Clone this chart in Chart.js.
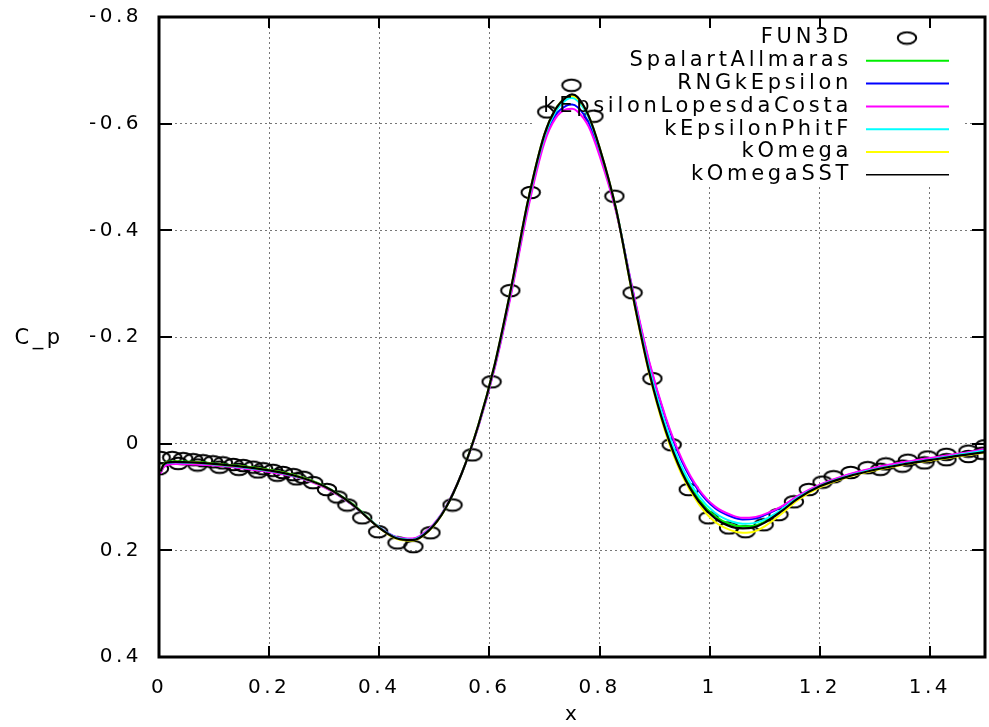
<!DOCTYPE html>
<html>
<head>
<meta charset="utf-8">
<title>C_p distribution</title>
<script src="https://cdn.jsdelivr.net/npm/chart.js@4.4.0/dist/chart.umd.min.js"></script>
<style>
  html, body { margin: 0; padding: 0; background: #fff; }
  #wrap { width: 989px; height: 727px; }
</style>
</head>
<body>
<div id="wrap"><canvas id="cpChart"></canvas></div>
<script>
// Axis ticks
const xTicks = [0, 0.2, 0.4, 0.6, 0.8, 1.0, 1.2, 1.4];
const yTicks = [-0.8, -0.6, -0.4, -0.2, 0, 0.2, 0.4];

// FUN3D reference points (circles)
const fun3dX = [0, 0.003, 0.024, 0.044, 0.062, 0.08, 0.098, 0.116, 0.135, 0.153, 0.171, 0.189, 0.207, 0.225, 0.244,
    0.262, 0.28, 0.305, 0.324, 0.342, 0.369, 0.398, 0.433, 0.462, 0.493, 0.533, 0.569, 0.604, 0.638, 0.675, 0.705,
    0.749, 0.789, 0.827, 0.86, 0.896, 0.931, 0.962, 0.998, 1.035, 1.065, 1.098, 1.125, 1.153, 1.18, 1.205, 1.225,
    1.256, 1.287, 1.32, 1.36, 1.396, 1.43, 1.47, 1.5,
    0.035, 0.07, 0.11, 0.145, 0.18, 0.215, 0.25, 1.31, 1.35, 1.39, 1.43, 1.47, 1.495];
const fun3dY = [0.047, 0.026, 0.026, 0.028, 0.030, 0.032, 0.034, 0.036, 0.039, 0.041, 0.044, 0.047, 0.050, 0.054, 0.058,
    0.063, 0.073, 0.086, 0.100, 0.115, 0.139, 0.165, 0.186, 0.193, 0.167, 0.115, 0.021, -0.116, -0.287, -0.471, -0.622,
    -0.672, -0.614, -0.464, -0.283, -0.122, 0.002, 0.086, 0.139, 0.158, 0.165, 0.152, 0.133, 0.109, 0.086, 0.072, 0.062,
    0.054, 0.045, 0.038, 0.031, 0.025, 0.020, 0.014, 0.004,
    0.037, 0.040, 0.044, 0.048, 0.053, 0.059, 0.066, 0.048, 0.042, 0.036, 0.030, 0.024, 0.018];

// Turbulence model curves, all on the same x stations
const xModel = [0.003, 0.008, 0.015, 0.03, 0.06, 0.1, 0.15, 0.2, 0.25, 0.3, 0.35, 0.4, 0.43, 0.46, 0.49, 0.52, 0.55,
    0.58, 0.61, 0.64, 0.67, 0.70, 0.72, 0.74, 0.75, 0.76, 0.78, 0.80, 0.83, 0.86, 0.89, 0.92, 0.95, 0.98, 1.01, 1.04,
    1.06, 1.08, 1.10, 1.13, 1.16, 1.2, 1.25, 1.3, 1.35, 1.4, 1.45, 1.5];
const spalartAllmaras = [0.051, 0.039, 0.034, 0.033, 0.034, 0.037, 0.042, 0.049, 0.060, 0.079, 0.112, 0.157, 0.177,
    0.181, 0.163, 0.122, 0.055, -0.035, -0.150, -0.295, -0.455, -0.580, -0.627, -0.650, -0.652, -0.647, -0.615, -0.555,
    -0.440, -0.280, -0.137, -0.028, 0.052, 0.104, 0.136, 0.152, 0.155, 0.154, 0.146, 0.126, 0.102, 0.079, 0.061, 0.048,
    0.038, 0.030, 0.022, 0.015];
const rngKEpsilon = [0.055, 0.044, 0.039, 0.037, 0.038, 0.040, 0.045, 0.052, 0.062, 0.081, 0.114, 0.157, 0.175, 0.179,
    0.161, 0.121, 0.055, -0.033, -0.145, -0.287, -0.445, -0.570, -0.616, -0.634, -0.636, -0.631, -0.602, -0.545, -0.437,
    -0.288, -0.152, -0.047, 0.034, 0.088, 0.121, 0.137, 0.142, 0.141, 0.134, 0.119, 0.099, 0.078, 0.059, 0.046, 0.036,
    0.028, 0.020, 0.011];
const kEpsilonLopesdaCosta = [0.056, 0.045, 0.040, 0.038, 0.039, 0.041, 0.046, 0.053, 0.063, 0.082, 0.114, 0.157,
    0.175, 0.178, 0.160, 0.120, 0.055, -0.032, -0.143, -0.283, -0.440, -0.565, -0.610, -0.627, -0.628, -0.623, -0.595,
    -0.540, -0.435, -0.290, -0.155, -0.050, 0.030, 0.085, 0.118, 0.134, 0.139, 0.138, 0.132, 0.118, 0.098, 0.077, 0.058,
    0.045, 0.035, 0.027, 0.019, 0.010];
const kEpsilonPhitF = [0.052, 0.041, 0.036, 0.035, 0.036, 0.039, 0.044, 0.051, 0.062, 0.080, 0.113, 0.157, 0.176,
    0.180, 0.162, 0.121, 0.055, -0.034, -0.148, -0.292, -0.451, -0.575, -0.622, -0.645, -0.648, -0.643, -0.612, -0.552,
    -0.440, -0.283, -0.142, -0.035, 0.045, 0.098, 0.130, 0.146, 0.150, 0.149, 0.142, 0.124, 0.101, 0.079, 0.061, 0.048,
    0.038, 0.030, 0.021, 0.013];
const kOmega = [0.052, 0.040, 0.035, 0.034, 0.035, 0.038, 0.043, 0.050, 0.061, 0.080, 0.113, 0.158, 0.178, 0.182,
    0.164, 0.122, 0.055, -0.035, -0.150, -0.295, -0.455, -0.580, -0.627, -0.650, -0.652, -0.647, -0.615, -0.555, -0.440,
    -0.278, -0.132, -0.020, 0.060, 0.113, 0.147, 0.163, 0.167, 0.165, 0.155, 0.132, 0.106, 0.082, 0.063, 0.050, 0.040,
    0.032, 0.024, 0.017];
const kOmegaSST = [0.052, 0.040, 0.035, 0.034, 0.035, 0.038, 0.043, 0.050, 0.061, 0.080, 0.113, 0.158, 0.177, 0.181,
    0.163, 0.122, 0.055, -0.035, -0.150, -0.295, -0.455, -0.580, -0.627, -0.650, -0.655, -0.650, -0.615, -0.555, -0.440,
    -0.280, -0.135, -0.025, 0.055, 0.108, 0.140, 0.156, 0.159, 0.157, 0.148, 0.127, 0.103, 0.080, 0.062, 0.049, 0.039,
    0.031, 0.023, 0.016];

const FONT = '"DejaVu Sans", sans-serif';

// Horizontally stretched open circle, like the gnuplot marker
const ring = document.createElement('canvas');
ring.width = 22;
ring.height = 15;
const rctx = ring.getContext('2d');
rctx.lineWidth = 2;
rctx.strokeStyle = '#000';
rctx.beginPath();
rctx.ellipse(11, 7.5, 9.2, 5.8, 0, 0, Math.PI * 2);
rctx.stroke();

function toPoints(xs, ys) {
    return xs.map((x, i) => ({ x, y: ys[i] }));
}

function modelLine(label, ys, color, width, order) {
    return {
        label,
        data: toPoints(xModel, ys),
        showLine: true,
        borderColor: color,
        borderWidth: width,
        pointRadius: 0,
        cubicInterpolationMode: 'monotone',
        order
    };
}

// Legend entries in gnuplot order
const legendItems = [
    { label: 'FUN3D', marker: true },
    { label: 'SpalartAllmaras', color: '#00ee00', width: 2 },
    { label: 'RNGkEpsilon', color: '#0000ff', width: 2 },
    { label: 'kEpsilonLopesdaCosta', color: '#ff00ff', width: 2 },
    { label: 'kEpsilonPhitF', color: '#00ffff', width: 2 },
    { label: 'kOmega', color: '#ffff00', width: 2 },
    { label: 'kOmegaSST', color: '#000000', width: 1.5 }
];

// Frame, mirrored ticks, legend and axis titles
const framePlugin = {
    id: 'frame',
    beforeDraw(chart) {
        chart.ctx.letterSpacing = '3.5px';
    },
    beforeDatasetsDraw(chart) {
        // the key box hides the grid behind it
        const ctx = chart.ctx;
        ctx.save();
        ctx.fillStyle = '#fff';
        ctx.fillRect(534, 27, 428, 157);
        ctx.restore();
    },
    afterDraw(chart) {
        const { ctx, chartArea: a, scales } = chart;
        ctx.save();
        ctx.setLineDash([]);

        // inward tick marks on all four sides
        ctx.strokeStyle = '#000000';
        ctx.lineWidth = 2;
        ctx.beginPath();
        xTicks.forEach(v => {
            const px = Math.round(scales.x.getPixelForValue(v));
            ctx.moveTo(px, a.bottom);
            ctx.lineTo(px, a.bottom - 11);
            ctx.moveTo(px, a.top);
            ctx.lineTo(px, a.top + 11);
        });
        yTicks.forEach(v => {
            const py = Math.round(scales.y.getPixelForValue(v));
            ctx.moveTo(a.left, py);
            ctx.lineTo(a.left + 13, py);
            ctx.moveTo(a.right, py);
            ctx.lineTo(a.right - 13, py);
        });
        ctx.stroke();

        // plot border
        ctx.lineWidth = 3;
        ctx.beginPath();
        ctx.rect(a.left, a.top, a.right - a.left, a.bottom - a.top);
        ctx.stroke();

        // key
        ctx.letterSpacing = '3.7px';
        ctx.font = '21px ' + FONT;
        ctx.fillStyle = '#000';
        ctx.textAlign = 'right';
        ctx.textBaseline = 'middle';
        legendItems.forEach((item, i) => {
            const y = 38 + i * 22.8;
            ctx.fillText(item.label, 852, y);
            if (item.marker) {
                ctx.drawImage(ring, 907 - ring.width / 2, y - ring.height / 2);
            } else {
                ctx.strokeStyle = item.color;
                ctx.lineWidth = item.width;
                ctx.beginPath();
                ctx.moveTo(866, y);
                ctx.lineTo(949, y);
                ctx.stroke();
            }
        });

        // axis titles
        ctx.textAlign = 'center';
        ctx.fillStyle = '#000';
        ctx.letterSpacing = '3.5px';
        ctx.fillText('C_p', 39, 339);
        ctx.letterSpacing = '0px';
        ctx.font = '20px ' + FONT;
        ctx.fillText('x', 571, 715);
        ctx.restore();
    }
};

const ctx = document.getElementById('cpChart').getContext('2d');

new Chart(ctx, {
    type: 'scatter',
    data: {
        datasets: [
            {
                label: 'FUN3D',
                data: toPoints(fun3dX, fun3dY),
                pointStyle: ring,
                borderColor: '#000',
                backgroundColor: 'transparent',
                showLine: false,
                order: 7
            },
            modelLine('SpalartAllmaras', spalartAllmaras, '#00ee00', 2, 6),
            modelLine('RNGkEpsilon', rngKEpsilon, '#0000ff', 2, 5),
            modelLine('kEpsilonLopesdaCosta', kEpsilonLopesdaCosta, '#ff00ff', 2, 4),
            modelLine('kEpsilonPhitF', kEpsilonPhitF, '#00ffff', 2, 3),
            modelLine('kOmega', kOmega, '#ffff00', 2, 2),
            modelLine('kOmegaSST', kOmegaSST, '#000000', 2.2, 1)
        ]
    },
    options: {
        responsive: true,
        maintainAspectRatio: false,
        animation: false,
        events: [],
        layout: { autoPadding: false, padding: { top: 17, right: 4, left: 0, bottom: 0 } },
        plugins: {
            legend: { display: false },
            tooltip: { enabled: false }
        },
        scales: {
            x: {
                type: 'linear',
                min: 0,
                max: 1.5,
                afterBuildTicks: scale => { scale.ticks = xTicks.map(value => ({ value })); },
                afterFit: scale => {
                    scale.height = 70;
                    scale.paddingLeft = 0;
                    scale.paddingRight = 0;
                },
                grid: { color: '#777', lineWidth: 1, drawTicks: false },
                border: { display: true, color: '#000', dash: [2, 3] },
                ticks: {
                    color: '#000',
                    padding: 19,
                    maxRotation: 0,
                    font: { family: FONT, size: 20 },
                    callback: v => String(+v.toFixed(1))
                }
            },
            y: {
                type: 'linear',
                min: -0.8,
                max: 0.4,
                reverse: true,
                afterBuildTicks: scale => { scale.ticks = yTicks.map(value => ({ value })); },
                afterFit: scale => {
                    scale.width = 159;
                    scale.paddingTop = 0;
                    scale.paddingBottom = 0;
                },
                grid: { color: '#777', lineWidth: 1, drawTicks: false },
                border: { display: true, color: '#000', dash: [2, 3] },
                ticks: {
                    color: '#000',
                    padding: 17,
                    font: { family: FONT, size: 20 },
                    callback: v => String(+v.toFixed(1))
                }
            }
        }
    },
    plugins: [framePlugin]
});
</script>
</body>
</html>
